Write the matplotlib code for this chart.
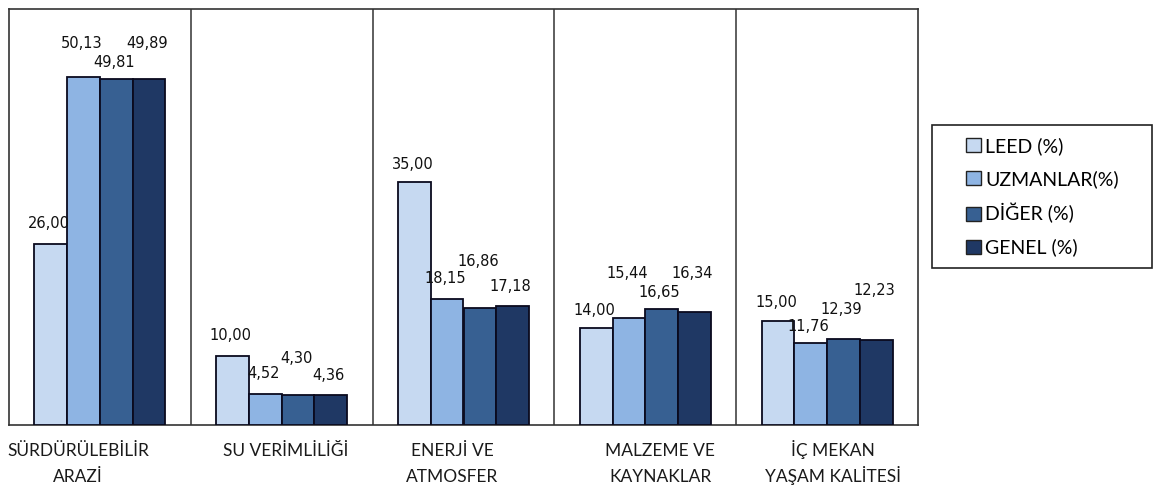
import matplotlib.pyplot as plt
from matplotlib.patches import Rectangle
import numpy as np

# Category names and the four series (percent)
categories = ["SÜRDÜRÜLEBİLİR\nARAZİ", "SU VERİMLİLİĞİ", "ENERJİ VE\nATMOSFER",
              "MALZEME VE\nKAYNAKLAR", "İÇ MEKAN\nYAŞAM KALİTESİ"]
series_names = ["LEED (%)", "UZMANLAR(%)", "DİĞER (%)", "GENEL (%)"]
leed = [26.00, 10.00, 35.00, 14.00, 15.00]
uzmanlar = [50.13, 4.52, 18.15, 15.44, 11.76]
diger = [49.81, 4.30, 16.86, 16.65, 12.39]
genel = [49.89, 4.36, 17.18, 16.34, 12.23]

colors = ["#C6D9F1", "#8EB4E3", "#376092", "#1F3864"]

# vertical offset (pixels) of each value label above its bar, per series
label_dy = [
    [21, 20, 17, 17, 18],
    [33, 20, 20, 44, 17],
    [17, 37, 46, 17, 29],
    [35, 19, 19, 38, 50],
]
# horizontal shift (pixels) of each category caption
cat_dx = [-22, 4, -11, 15, 6]

fig = plt.figure(figsize=(11.55, 4.88), dpi=100)
W, H = 1155, 488
ax = fig.add_axes([9 / W, (H - 425) / H, (918 - 9) / W, (425 - 9) / H])

x = np.arange(len(categories))
width = 0.18
all_series = [leed, uzmanlar, diger, genel]

for k, vals in enumerate(all_series):
    pos = x + (k - 1.5) * width
    ax.bar(pos, vals, width, color=colors[k], edgecolor="#0a0a1e",
           linewidth=1.3, label=series_names[k], zorder=3)
    for i, v in enumerate(vals):
        ax.annotate(f"{v:.2f}".replace(".", ","), xy=(pos[i], v),
                    xytext=(-2, label_dy[k][i]), textcoords="offset pixels",
                    ha="center", va="center", fontsize=10.5,
                    family="DejaVu Sans", color="#111111", zorder=4)

# group separators
for s in x[:-1] + 0.5:
    ax.axvline(s, color="#333333", linewidth=1.1, zorder=2)

ax.set_xlim(-0.5, len(categories) - 0.5)
ax.set_ylim(0, 59.9)
ax.set_xticks([])
ax.set_yticks([])
for sp in ax.spines.values():
    sp.set_color("#333333")
    sp.set_linewidth(1.2)

# category captions, one line at a time on fixed baselines
for i, name in enumerate(categories):
    for j, line in enumerate(name.split("\n")):
        ax.annotate(line, xy=(x[i], 0), xycoords=("data", "axes fraction"),
                    xytext=(cat_dx[i], -31 - 26 * j), textcoords="offset pixels",
                    ha="center", va="baseline",
                    fontsize=12.5, family="Lato", color="#1a1a1a")

# legend with its own frame
fig.patches.append(Rectangle((932 / W, (H - 268) / H), (1152 - 932) / W, (268 - 125) / H,
                             transform=fig.transFigure, fill=False,
                             edgecolor="#222222", linewidth=1.2))
handles = [Rectangle((0, 0), 1, 1, facecolor=c, edgecolor="#222222", linewidth=1.0)
           for c in colors]
fig.legend(handles, series_names, loc="upper left",
           bbox_to_anchor=(966 / W, (H - 137) / H), frameon=False,
           borderpad=0, borderaxespad=0, handlelength=0.75, handleheight=0.75,
           handletextpad=0.25, labelspacing=0.78,
           prop={"family": "Lato", "size": 14})

fig.savefig("out.png", dpi=100, facecolor="white")
